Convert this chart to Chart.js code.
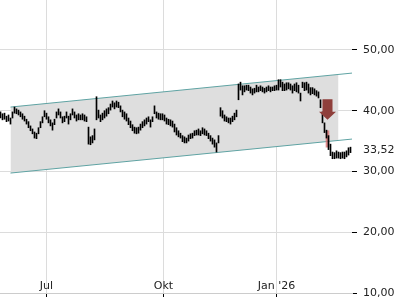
<!DOCTYPE html>
<html><head><meta charset="utf-8">
<script src="https://cdn.jsdelivr.net/npm/chart.js@4/dist/chart.umd.min.js"></script>
<style>html,body{margin:0;padding:0;background:#fff}#wrap{width:400px;height:300px}</style>
</head><body><div id="wrap"><canvas id="c" width="400" height="300"></canvas></div>
<script>
// Daily price ranges (low / high), one per trading session
const lows = [38.8,38.5,38.6,38.2,38.3,37.8,38.8,39.6,39.5,39.3,39.0,38.6,38.3,37.8,37.2,36.7,36.2,35.5,35.4,36.2,
37.2,38.0,39.0,38.6,38.0,37.5,36.8,37.7,38.8,39.3,38.8,38.0,38.2,38.8,37.8,38.5,39.3,38.8,38.3,38.5,
38.5,38.5,38.3,38.2,34.5,34.4,34.7,35.2,38.5,38.8,38.2,38.5,38.8,39.1,39.5,40.1,40.6,40.3,40.6,40.5,
39.8,39.0,38.6,38.3,37.7,37.2,36.7,36.3,36.2,36.3,36.8,37.2,37.5,37.8,38.2,37.3,38.2,39.5,38.8,38.6,
38.5,38.5,38.3,37.8,37.7,37.5,37.3,36.5,36.0,35.7,35.5,34.9,34.7,34.7,35.0,35.4,35.5,35.9,36.0,36.0,
35.9,36.2,36.0,35.9,35.4,35.0,34.5,34.0,33.2,34.7,39.1,38.8,38.3,38.2,38.0,37.8,38.2,38.5,39.0,41.8,
43.4,42.6,43.1,43.4,43.3,42.9,42.6,42.9,43.1,43.1,43.3,43.1,42.9,43.1,43.3,43.1,43.3,43.3,43.4,43.4,
43.9,43.3,43.3,43.4,43.6,43.4,42.9,43.3,43.1,42.9,41.6,43.8,43.3,43.4,42.9,42.6,42.8,42.6,42.4,42.1,
40.5,38.0,36.4,35.5,33.6,32.6,32.1,32.1,32.2,32.2,32.1,32.2,32.1,32.4,32.7,33.1];
const highs = [39.8,39.5,39.6,39.1,39.3,38.8,39.8,40.6,40.3,40.1,39.8,39.5,39.1,38.6,38.2,37.5,37.0,36.5,36.3,37.2,
38.2,39.0,40.0,39.6,39.0,38.5,38.0,38.6,39.8,40.3,39.8,39.0,39.1,39.8,39.1,39.5,40.3,39.8,39.3,39.5,
39.3,39.5,39.3,39.0,37.3,35.7,35.9,37.0,42.3,40.1,39.3,39.6,40.0,40.3,40.5,41.1,41.6,41.3,41.6,41.4,
40.8,40.1,39.8,39.5,38.8,38.3,37.7,37.3,37.2,37.3,37.8,38.2,38.5,38.8,39.0,38.5,39.0,40.8,39.8,39.6,
39.5,39.5,39.3,38.8,38.6,38.5,38.3,37.8,37.2,36.7,36.3,35.9,35.7,35.5,36.0,36.2,36.3,36.7,36.8,37.0,
36.7,37.2,37.0,36.7,36.3,35.9,35.5,35.2,34.7,35.9,40.5,40.0,39.3,39.0,38.8,38.8,39.1,39.6,40.1,44.4,
44.7,44.1,44.1,44.2,44.2,43.9,43.6,43.7,44.2,43.9,44.1,43.9,43.7,43.9,44.1,43.9,43.9,44.1,44.2,45.1,
45.1,44.7,44.4,44.6,44.6,44.4,44.1,44.4,44.6,44.2,42.9,44.7,44.6,44.7,44.4,43.8,43.8,43.6,43.3,43.1,
41.8,39.8,38.0,36.8,35.9,34.5,33.2,33.1,33.4,33.2,33.1,33.2,33.2,33.4,33.9,34.0];
// Highlighted session (drop day)
const highlightAt = [163.5];
const highlightRange = [[34.0, 36.7]];
// Trend channel: start / fill end / line end (session index) and values
const channelX = [5, 169, 176];
const channelUpper = [40.6, 45.97, 46.2];
const channelLower = [29.74, 35.11, 35.34];
// Sell signal arrow: session index, top value, tip value
const arrowSignal = [163.5, 41.9, 38.5];
// Axis ticks
const xTickPos = [23, 81.5, 138];
const xTickLabels = ['Jul', 'Okt', "Jan '26"];
const yTicks = [10, 20, 30, 40, 50];
const lastPrice = 33.52;

Chart.defaults.font.family = 'DejaVu Sans';
Chart.defaults.font.size = 11;
Chart.defaults.color = '#222';

const bars = lows.map((l, i) => ({x: i, y: [l, highs[i]]}));
const hl = highlightAt.map((x, i) => ({x: x, y: highlightRange[i]}));

const arrowPlugin = {
  id: 'arrow',
  afterDatasetsDraw(chart) {
    const xs = chart.scales.x, ys = chart.scales.y, ctx = chart.ctx;
    const cx = xs.getPixelForValue(arrowSignal[0]);
    const top = ys.getPixelForValue(arrowSignal[1]);
    const tip = ys.getPixelForValue(arrowSignal[2]);
    const headH = 8, bodyW = 10, headW = 17;
    ctx.save();
    ctx.fillStyle = '#8f3f3b';
    ctx.beginPath();
    ctx.moveTo(cx - bodyW / 2, top);
    ctx.lineTo(cx + bodyW / 2, top);
    ctx.lineTo(cx + bodyW / 2, tip - headH);
    ctx.lineTo(cx + headW / 2, tip - headH);
    ctx.lineTo(cx, tip);
    ctx.lineTo(cx - headW / 2, tip - headH);
    ctx.lineTo(cx - bodyW / 2, tip - headH);
    ctx.closePath();
    ctx.fill();
    ctx.restore();
  }
};

new Chart(document.getElementById('c'), {
  type: 'bar',
  data: {
    datasets: [
      {type: 'line', data: [{x: channelX[0], y: channelLower[0]}, {x: channelX[1], y: channelLower[1]}],
        borderWidth: 0, borderColor: 'rgba(0,0,0,0)', pointRadius: 0, fill: false, order: 20},
      {type: 'line', data: [{x: channelX[0], y: channelUpper[0]}, {x: channelX[1], y: channelUpper[1]}],
        borderWidth: 0, borderColor: 'rgba(0,0,0,0)', pointRadius: 0, fill: '-1', backgroundColor: '#dedede', order: 19},
      {type: 'line', data: [{x: channelX[0], y: channelUpper[0]}, {x: channelX[2], y: channelUpper[2]}],
        borderWidth: 1, borderColor: '#5fa3a3', pointRadius: 0, fill: false, order: 10},
      {type: 'line', data: [{x: channelX[0], y: channelLower[0]}, {x: channelX[2], y: channelLower[2]}],
        borderWidth: 1, borderColor: '#5fa3a3', pointRadius: 0, fill: false, order: 10},
      {data: hl, backgroundColor: 'rgba(215,110,110,0.8)', barThickness: 3, order: 5, grouped: false},
      {data: bars, backgroundColor: '#000', barThickness: 1, order: 1, grouped: false}
    ]
  },
  options: {
    responsive: false,
    animation: false,
    layout: {padding: 0},
    plugins: {legend: {display: false}, tooltip: {enabled: false}},
    scales: {
      x: {
        type: 'linear', min: -0.25, max: 175.75, offset: false,
        grid: {offset: false, color: '#dcdcdc', drawTicks: true, tickLength: 4, tickColor: '#000'},
        border: {display: true, color: '#cccccc'},
        afterBuildTicks: s => { s.ticks = xTickPos.map(v => ({value: v})); },
        afterFit: s => { s.height = 7; s.paddingLeft = 0; s.paddingRight = 0; },
        ticks: {mirror: true, padding: 0, maxRotation: 0, autoSkip: false, callback: (v, i) => xTickLabels[i]}
      },
      y: {
        type: 'linear', position: 'right', min: 10, max: 58.22,
        grid: {
          color: c => (c.tick && c.tick.value === lastPrice) ? 'rgba(0,0,0,0)' : '#dcdcdc',
          tickColor: c => (c.tick && c.tick.value === lastPrice) ? 'rgba(0,0,0,0)' : '#000',
          tickLength: 5
        },
        border: {display: false},
        afterBuildTicks: s => { s.ticks = yTicks.concat([lastPrice]).sort((a, b) => a - b).map(v => ({value: v})); },
        afterFit: s => { s.width = 48; s.paddingTop = 0; s.paddingBottom = 0; },
        ticks: {padding: 6, autoSkip: false, callback: v => v.toFixed(2).replace('.', ',')}
      }
    }
  },
  plugins: [arrowPlugin]
});
</script></body></html>
